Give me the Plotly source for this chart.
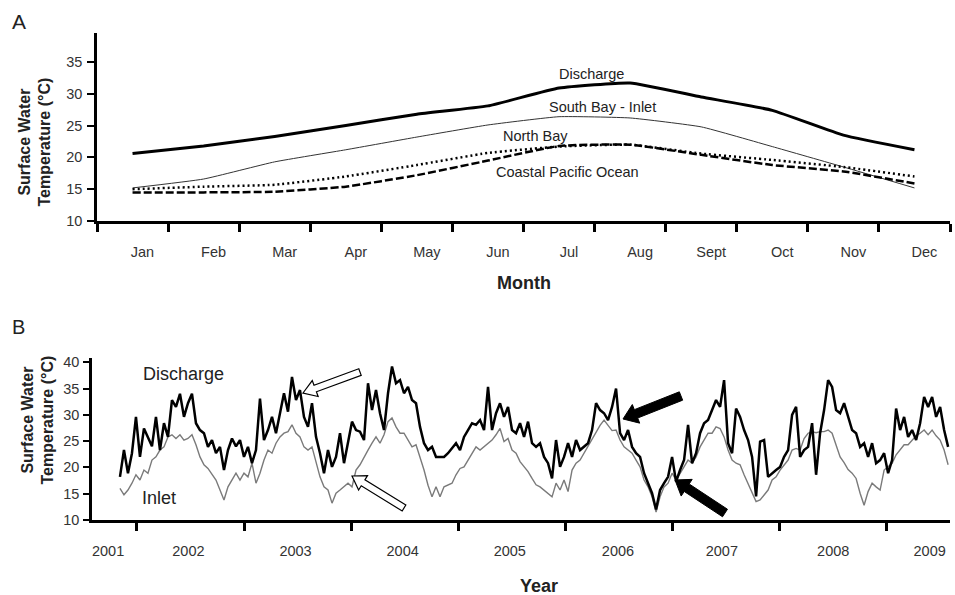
import math
import plotly.graph_objects as go

# ---------------- Panel A data (monthly means) ----------------
months = ["Jan", "Feb", "Mar", "Apr", "May", "Jun", "Jul", "Aug", "Sept", "Oct", "Nov", "Dec"]
discharge_a = [20.6, 21.8, 23.3, 25.0, 26.8, 28.1, 30.9, 31.7, 29.5, 27.4, 23.5, 21.2]
south_bay_inlet = [15.2, 16.6, 19.3, 21.2, 23.2, 25.1, 26.4, 26.2, 24.8, 21.7, 18.5, 15.2]
north_bay = [15.0, 15.4, 15.7, 17.0, 18.8, 20.7, 21.7, 22.0, 20.6, 19.6, 18.5, 17.0]
coastal_pacific = [14.5, 14.5, 14.6, 15.4, 17.2, 19.5, 21.8, 22.0, 20.4, 18.8, 17.8, 15.9]

# ---------------- Panel B data (biweekly samples, late 2001 - mid 2009) ----------------
start_year = 2001.841
step_years = 0.03735

discharge_seg1 = [18.2, 23.3, 18.9, 22.7, 29.6, 22.0, 27.4, 25.8, 24.0, 29.6, 23.3, 28.4, 25.8, 32.8, 31.5,
                  34.0, 29.6, 32.2, 34.0, 28.4, 27.1, 26.5, 23.9, 25.2, 22.7, 23.9, 19.5, 23.3, 25.5, 24.0]
discharge_seg2 = [25.2, 22.0, 23.9, 20.8, 23.3, 33.1, 25.2, 27.1, 29.6, 26.5, 30.3, 34.1, 30.6, 37.2, 32.8,
                  34.7, 29.6, 27.7, 32.2, 25.8, 22.7, 18.9, 23.3, 20.1, 22.0, 26.5, 20.8, 24.6, 28.7, 27.1]
discharge_seg3 = [26.8, 25.2, 36.0, 30.9, 34.7, 30.3, 27.1, 34.1, 39.2, 36.0, 36.6, 34.1, 35.3, 32.8, 32.2,
                  27.7, 24.6, 23.3, 23.9, 22.0, 22.0, 22.0, 22.7, 23.6, 24.6, 23.3, 25.8, 27.1, 28.4, 28.1]
discharge_seg4 = [29.0, 27.1, 35.3, 27.1, 30.3, 32.2, 29.6, 31.5, 27.1, 26.5, 28.4, 25.8, 28.7, 24.6, 23.9,
                  24.6, 22.0, 20.8, 17.9, 25.2, 20.1, 22.0, 24.6, 22.0, 25.2, 23.3, 23.9, 24.6, 27.1, 32.2]
discharge_seg5 = [30.9, 30.3, 29.0, 31.5, 35.0, 26.5, 25.2, 27.1, 23.9, 22.7, 22.0, 18.9, 17.0, 15.1, 12.0,
                  15.7, 17.0, 18.2, 22.0, 17.3, 19.5, 21.4, 28.1, 20.8, 22.7, 26.5, 28.4, 29.0, 30.9, 32.8]
discharge_seg6 = [31.5, 36.6, 24.6, 22.7, 31.2, 29.6, 27.1, 25.2, 22.0, 14.5, 24.9, 25.2, 18.2, 18.9, 19.5,
                  20.1, 22.0, 23.3, 30.0, 31.5, 22.0, 23.3, 23.9, 28.4, 18.6, 26.5, 30.9, 36.6, 35.3, 30.9]
discharge_seg7 = [30.3, 32.2, 29.6, 27.1, 26.5, 23.9, 24.6, 22.0, 24.6, 20.8, 21.4, 22.7, 18.9, 21.4, 31.2,
                  27.1, 29.6, 25.8, 27.1, 25.2, 28.4, 33.4, 31.5, 33.4, 29.6, 31.5, 27.1, 23.9]

inlet_seg1 = [16.0, 14.8, 15.7, 17.0, 18.6, 17.6, 19.5, 18.9, 21.4, 22.0, 23.3, 23.9, 25.8, 26.2, 25.5,
              26.2, 25.2, 25.5, 26.2, 24.3, 22.0, 20.5, 19.8, 18.6, 17.6, 15.7, 13.8, 16.3, 17.6, 18.9]
inlet_seg2 = [17.6, 18.9, 18.2, 20.8, 17.0, 18.9, 21.4, 23.3, 22.7, 24.6, 25.8, 26.5, 26.8, 28.1, 26.5,
              25.8, 23.9, 23.3, 23.9, 20.8, 18.2, 16.3, 15.7, 13.2, 15.1, 15.7, 16.3, 17.0, 16.3, 19.5]
inlet_seg3 = [20.5, 22.0, 23.3, 24.6, 25.8, 24.6, 26.2, 28.7, 29.4, 27.7, 26.5, 26.5, 25.2, 23.9, 24.3,
              22.0, 19.5, 16.6, 14.4, 16.3, 14.4, 16.3, 16.6, 17.0, 18.6, 19.8, 20.1, 21.4, 22.7, 23.9]
inlet_seg4 = [23.3, 23.9, 24.6, 25.2, 26.2, 27.4, 24.9, 25.5, 23.3, 22.7, 21.1, 20.1, 19.2, 17.9, 16.7,
              16.3, 15.7, 15.1, 14.4, 17.0, 15.7, 17.6, 15.4, 19.5, 20.8, 21.4, 22.7, 23.9, 25.2, 26.5]
inlet_seg5 = [28.0, 29.0, 28.0, 27.0, 27.1, 25.2, 23.9, 23.3, 22.7, 21.4, 20.1, 17.6, 16.3, 14.4, 11.5,
              14.4, 16.3, 17.0, 18.9, 17.6, 18.9, 20.1, 21.4, 20.8, 22.0, 23.9, 25.2, 26.5, 26.5, 27.7]
inlet_seg6 = [27.4, 25.8, 23.3, 21.4, 20.8, 20.5, 18.6, 17.0, 15.1, 13.5, 13.8, 14.8, 15.7, 17.6, 18.2,
              19.5, 20.5, 21.4, 23.3, 23.6, 23.3, 25.5, 26.5, 26.8, 26.6, 26.8, 26.8, 27.1, 26.5, 24.3]
inlet_seg7 = [22.0, 20.9, 19.6, 18.9, 17.9, 15.1, 12.8, 15.4, 17.0, 16.3, 15.7, 19.5, 20.1, 20.8, 22.4,
              23.3, 24.3, 24.3, 25.2, 26.0, 26.5, 27.1, 26.2, 27.1, 26.0, 25.2, 23.3, 20.5]

year_label_pos = [2001.73, 2002.48, 2003.48, 2004.48, 2005.48, 2006.49, 2007.46, 2008.50, 2009.40]
year_labels = ["2001", "2002", "2003", "2004", "2005", "2006", "2007", "2008", "2009"]
year_ticks = [2002, 2003, 2004, 2005, 2006, 2007, 2008, 2009]

discharge_b = (discharge_seg1 + discharge_seg2 + discharge_seg3 + discharge_seg4
               + discharge_seg5 + discharge_seg6 + discharge_seg7)
inlet_b = inlet_seg1 + inlet_seg2 + inlet_seg3 + inlet_seg4 + inlet_seg5 + inlet_seg6 + inlet_seg7
t_dis = [start_year + i * step_years for i in range(len(discharge_b))]
t_inl = [start_year + i * step_years for i in range(len(inlet_b))]

W, H = 955, 595
FONT = "Liberation Sans, Arial, sans-serif"
TICK_COLOR = "#333333"


def px(x):
    return x / W


def py(y):
    return 1 - y / H


fig = go.Figure()

# Panel A traces
month_idx = list(range(len(months)))
fig.add_trace(go.Scatter(x=month_idx, y=discharge_a, mode="lines", xaxis="x", yaxis="y",
                         line=dict(color="black", width=3, shape="spline", smoothing=0.4)))
fig.add_trace(go.Scatter(x=month_idx, y=south_bay_inlet, mode="lines", xaxis="x", yaxis="y",
                         line=dict(color="#333333", width=1, shape="spline", smoothing=0.4)))
fig.add_trace(go.Scatter(x=month_idx, y=north_bay, mode="lines", xaxis="x", yaxis="y",
                         line=dict(color="black", width=2.5, dash="2px,3px", shape="spline", smoothing=0.4)))
fig.add_trace(go.Scatter(x=month_idx, y=coastal_pacific, mode="lines", xaxis="x", yaxis="y",
                         line=dict(color="black", width=2.5, dash="8px,3px", shape="spline", smoothing=0.4)))

# Panel B traces
fig.add_trace(go.Scatter(x=t_inl, y=inlet_b, mode="lines", xaxis="x2", yaxis="y2",
                         line=dict(color="#7a7a7a", width=1.4)))
fig.add_trace(go.Scatter(x=t_dis, y=discharge_b, mode="lines", xaxis="x2", yaxis="y2",
                         line=dict(color="black", width=2.5)))

axis_common = dict(showline=True, linecolor="black", linewidth=2.5, showgrid=False, zeroline=False,
                   automargin=False,
                   tickfont=dict(family=FONT, size=14.5, color=TICK_COLOR), fixedrange=True)

fig.update_layout(
    width=W, height=H, margin=dict(l=0, r=0, t=0, b=0, autoexpand=False),
    paper_bgcolor="white", plot_bgcolor="white", showlegend=False,
    font=dict(family=FONT, color="#222222"),
    xaxis=dict(domain=[px(97), px(950)], range=[-0.5, 11.5], anchor="y",
               tickmode="array", tickvals=[i + 0.14 for i in month_idx], ticktext=months,
               ticks="", ticklabelstandoff=16,
               minor=dict(tickmode="array", tickvals=[i - 0.5 for i in range(len(months) + 1)],
                          ticks="outside", ticklen=8, tickwidth=2.5, tickcolor="black", showgrid=False),
               **axis_common),
    yaxis=dict(domain=[py(221), py(33)], range=[10, 39.56], anchor="x",
               tickmode="array", tickvals=[10, 15, 20, 25, 30, 35],
               ticks="outside", ticklen=7, tickwidth=2, tickcolor="black", ticklabelstandoff=2,
               **axis_common),
    xaxis2=dict(domain=[px(92), px(950)], range=[2001.58, 2009.59], anchor="y2",
                tickmode="array", tickvals=year_label_pos, ticktext=year_labels,
                ticks="", ticklabelstandoff=16,
                minor=dict(tickmode="array", tickvals=year_ticks,
                           ticks="outside", ticklen=8, tickwidth=2.5, tickcolor="black", showgrid=False),
                **axis_common),
    yaxis2=dict(domain=[py(520), py(358)], range=[10, 40.8], anchor="x2",
                tickmode="array", tickvals=[10, 15, 20, 25, 30, 35, 40],
                ticks="outside", ticklen=6, tickwidth=2, tickcolor="black", ticklabelstandoff=1,
                **axis_common),
)

ann = []


def text(x, y, s, size, bold=False, angle=0, color="#222222"):
    ann.append(dict(x=px(x), y=py(y), xref="paper", yref="paper", text=("<b>%s</b>" % s) if bold else s,
                    showarrow=False, xanchor="center", yanchor="middle", textangle=angle,
                    font=dict(family=FONT, size=size, color=color)))


text(19, 22, "A", 21)
text(18, 327, "B", 20)
text(34.5, 142, "Surface Water<br>Temperature (°C)", 16, bold=True, angle=-90)
text(37.5, 420, "Surface Water<br>Temperature (°C)", 16, bold=True, angle=-90)
text(524, 283, "Month", 18, bold=True)
text(539, 586, "Year", 18, bold=True)
text(591, 74, "Discharge", 14.5)
text(602, 107, "South Bay - Inlet", 14.5)
text(535, 136, "North Bay", 14.5)
text(567, 172, "Coastal Pacific Ocean", 14.5)
text(183, 374, "Discharge", 18)
text(159, 498, "Inlet", 18)
fig.update_layout(annotations=ann)


def arrow_path(tail, tip, shaft_w, head_w, head_len):
    dx, dy = tip[0] - tail[0], tip[1] - tail[1]
    L = math.hypot(dx, dy)
    ux, uy = dx / L, dy / L
    nx, ny = -uy, ux
    bx, by = tip[0] - ux * head_len, tip[1] - uy * head_len
    pts = [
        (tail[0] + nx * shaft_w / 2, tail[1] + ny * shaft_w / 2),
        (bx + nx * shaft_w / 2, by + ny * shaft_w / 2),
        (bx + nx * head_w / 2, by + ny * head_w / 2),
        tip,
        (bx - nx * head_w / 2, by - ny * head_w / 2),
        (bx - nx * shaft_w / 2, by - ny * shaft_w / 2),
        (tail[0] - nx * shaft_w / 2, tail[1] - ny * shaft_w / 2),
    ]
    return "M " + " L ".join("%.5f,%.5f" % (px(x), py(y)) for x, y in pts) + " Z"


shapes = []
for tail, tip, hollow in [((360, 372), (303, 393), True),
                          ((404, 508), (352, 476), True),
                          ((681, 396), (623, 419), False),
                          ((725, 513), (675, 480), False)]:
    if hollow:
        shapes.append(dict(type="path", xref="paper", yref="paper", layer="above",
                           path=arrow_path(tail, tip, 7, 17, 13),
                           fillcolor="white", line=dict(color="black", width=1.2)))
    else:
        shapes.append(dict(type="path", xref="paper", yref="paper", layer="above",
                           path=arrow_path(tail, tip, 9, 20, 14),
                           fillcolor="black", line=dict(color="black", width=1)))
fig.update_layout(shapes=shapes)

fig.write_html("out.html", config={"displayModeBar": False},
               post_script="document.body.style.margin='0px';document.body.style.padding='0px';")
